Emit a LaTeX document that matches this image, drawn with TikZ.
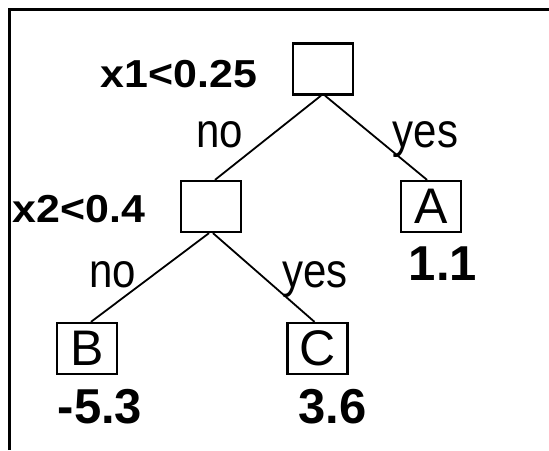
\documentclass[tikz,border=0pt]{standalone}
\usepackage{fontspec}
\setmainfont{Liberation Sans}
\begin{document}
\begin{tikzpicture}[x=1pt,y=-1pt,
  box/.style={draw=black,line width=2.3pt,minimum width=60pt,minimum height=51pt,inner sep=0pt,
    font=\fontsize{50}{52}\selectfont},
  edge/.style={draw=black,line width=1.8pt},
  cond/.style={anchor=base,inner sep=0pt,xscale=1.1,font=\fontsize{39}{41}\selectfont\bfseries},
  branch/.style={anchor=base,inner sep=0pt,yscale=1.15,font=\fontsize{42}{44}\selectfont},
  leafval/.style={anchor=base,inner sep=0pt,font=\fontsize{49}{51}\selectfont\bfseries}]
  \useasboundingbox (0,0) rectangle (549,450);
  % frame
  \draw[line width=2.5pt] (9.5,450) -- (9.5,9.5) -- (549,9.5);
  % tree nodes
  \node[box] (root) at (323,69) {};
  \node[box] (n2) at (211,206.5) {};
  \node[box] (a) at (431,206.5) {A};
  \node[box] (b) at (87,348.5) {B};
  \node[box] (c) at (317.5,348.5) {C};
  % branches
  \draw[edge] ([xshift=-2pt]root.south) -- ([xshift=4pt]n2.north);
  \draw[edge] ([xshift=2pt]root.south) -- ([xshift=-4pt]a.north);
  \draw[edge] ([xshift=-2pt]n2.south) -- ([xshift=4pt]b.north);
  \draw[edge] ([xshift=2pt]n2.south) -- ([xshift=-3pt]c.north);
  % split conditions
  \node[cond] (c1) at (179,87) {x1<0.25};
  \node[cond] (c2) at (79,222) {x2<0.4};
  % branch labels
  \node[branch] (no1) at (220,147) {no};
  \node[branch] (yes1) at (425.5,147) {yes};
  \node[branch] (no2) at (113,287) {no};
  \node[branch] (yes2) at (315,287) {yes};
  % leaf values
  \node[leafval] (va) at (443,280) {1.1};
  \node[leafval] (vb) at (100,423) {-5.3};
  \node[leafval] (vc) at (332.5,423) {3.6};
\end{tikzpicture}
\end{document}
